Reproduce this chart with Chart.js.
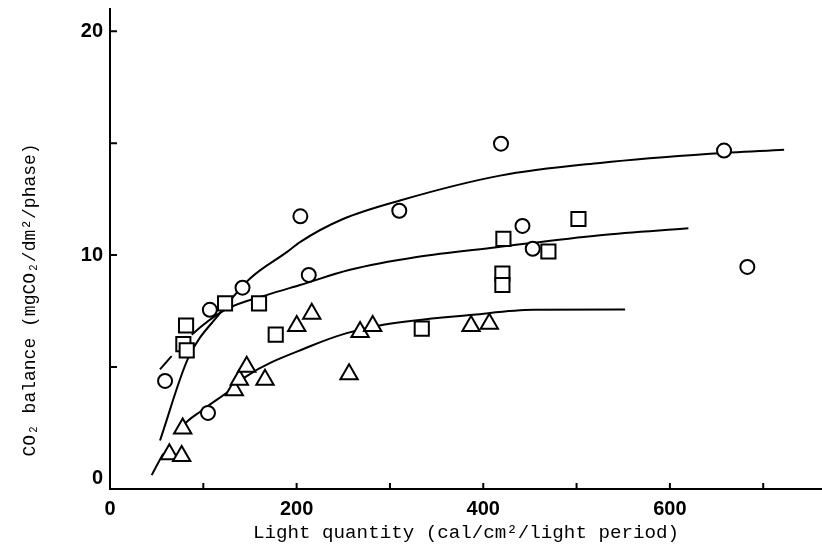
<!DOCTYPE html>
<html>
<head>
<meta charset="utf-8">
<script src="https://cdn.jsdelivr.net/npm/chart.js@4.4.1/dist/chart.umd.min.js"></script>
<style>
  body { margin: 0; background: #fff; }
  canvas { display: block; }
</style>
</head>
<body>
<canvas id="co2Chart" width="822" height="551"></canvas>
<script>
// measured CO2 balance, one pair of arrays per symbol
var circleX = [59, 105, 107, 142, 213, 204, 310, 419, 442, 453, 658, 683];
var circleY = [4.37, 2.94, 7.55, 8.54, 9.11, 11.73, 11.98, 14.98, 11.3, 10.28, 14.67, 9.47];

var squareX = [81.5, 78.6, 82.2, 123.3, 159.7, 177.6, 334.1, 421.6, 420.5, 420.5, 469.8, 502];
var squareY = [6.85, 6.02, 5.74, 7.84, 7.84, 6.44, 6.71, 10.72, 9.17, 8.66, 10.16, 11.61];

var triangleX = [63.6, 76.8, 77.9, 133.2, 138.6, 146.5, 166.1, 200.1, 216.2, 256.2, 268, 281.5, 386.9, 406.5];
var triangleY = [1.09, 1.02, 2.25, 3.95, 4.42, 5.01, 4.42, 6.83, 7.37, 4.67, 6.56, 6.83, 6.83, 6.93];

// hand fitted curves
var circleFitX = [53.6, 83.9, 117.9, 150.1, 189.4, 203.6, 249.7, 310.8, 418, 525.2, 643.1, 722.4];
var circleFitY = [1.71, 5.4, 7.4, 8.95, 10.13, 10.58, 11.61, 12.44, 13.55, 14.12, 14.53, 14.71];

var squareFitX = [53.6, 66.1, 87.6, 123.3, 169.3, 203.6, 257.2, 328.7, 414.5, 525.2, 619.8];
var squareFitY = [4.89, 5.48, 6.44, 7.55, 8.23, 8.66, 9.34, 9.91, 10.35, 10.89, 11.2];

var triangleFitX = [44.7, 57.1, 78.2, 98.3, 132.2, 146.5, 214.4, 253.7, 292.9, 389.4, 453.7, 552];
var triangleFitY = [0.16, 1.12, 2.38, 3.05, 4.07, 4.59, 5.92, 6.51, 6.88, 7.33, 7.55, 7.56];

var xTicks = [0, 100, 200, 300, 400, 500, 600, 700];
var xTickLabels = ['0', '', '200', '', '400', '', '600', ''];
var yTicks = [0, 5, 10, 15, 20];
var yTickLabels = ['0', '', '10', '', '20'];

function toPoints(xs, ys) {
  return xs.map(function (x, i) { return { x: x, y: ys[i] }; });
}

// hide the short piece of a curve right after its first stroke
function gapAfterFirst(ctx) {
  return ctx.p0DataIndex === 1 ? 'rgba(0,0,0,0)' : undefined;
}

function markers(data, style, radius) {
  return {
    data: data,
    showLine: false,
    pointStyle: style,
    pointRadius: radius,
    pointBorderWidth: 2,
    pointBorderColor: '#000',
    pointBackgroundColor: '#fff',
    order: 1
  };
}

function curve(data, gap) {
  var ds = {
    data: data,
    showLine: true,
    pointRadius: 0,
    borderColor: '#000',
    borderWidth: 2,
    cubicInterpolationMode: 'monotone',
    order: 2
  };
  if (gap) ds.segment = { borderColor: gapAfterFirst };
  return ds;
}

// small tick marks pointing into the plot
var innerTicks = {
  id: 'innerTicks',
  afterDraw: function (chart) {
    var ctx = chart.ctx, area = chart.chartArea;
    var xs = chart.scales.x, ys = chart.scales.y;
    ctx.save();
    ctx.strokeStyle = '#000';
    ctx.lineWidth = 2;
    ctx.beginPath();
    xTicks.forEach(function (v) {
      if (v === 0) return;
      var px = xs.getPixelForValue(v);
      ctx.moveTo(px, area.bottom);
      ctx.lineTo(px, area.bottom - 6);
    });
    yTicks.forEach(function (v) {
      if (v === 0) return;
      var py = ys.getPixelForValue(v);
      ctx.moveTo(area.left, py);
      ctx.lineTo(area.left + 7, py);
    });
    ctx.stroke();
    ctx.restore();
  }
};

var labelFamily = '"Liberation Sans", Arial, sans-serif';
var monoFamily = '"Liberation Mono", "DejaVu Sans Mono", monospace';

var ctx = document.getElementById('co2Chart');
var myChart = new Chart(ctx, {
  type: 'scatter',
  data: {
    datasets: [
      markers(toPoints(circleX, circleY), 'circle', 7),
      markers(toPoints(squareX, squareY), 'rect', 10),
      markers(toPoints(triangleX, triangleY), 'triangle', 10),
      curve(toPoints(circleFitX, circleFitY), false),
      curve(toPoints(squareFitX, squareFitY), true),
      curve(toPoints(triangleFitX, triangleFitY), true)
    ]
  },
  options: {
    responsive: false,
    animation: false,
    events: [],
    layout: { padding: 0, autoPadding: false },
    plugins: {
      legend: { display: false },
      tooltip: { enabled: false }
    },
    scales: {
      x: {
        type: 'linear',
        min: 0,
        max: 763,
        afterBuildTicks: function (scale) {
          scale.ticks = xTicks.map(function (v) { return { value: v }; });
        },
        afterFit: function (scale) { scale.height = 62; },
        grid: { display: false, drawTicks: false },
        border: { display: true, color: '#000', width: 2 },
        ticks: {
          color: '#000',
          font: { family: labelFamily, size: 20, weight: 'bold', lineHeight: 1 },
          padding: 10,
          maxRotation: 0,
          autoSkip: false,
          callback: function (value, index) { return xTickLabels[index]; }
        },
        title: {
          display: true,
          text: 'Light quantity (cal/cm²/light period)',
          color: '#000',
          font: { family: monoFamily, size: 19.2 },
          padding: { top: 0, bottom: 7 }
        }
      },
      y: {
        type: 'linear',
        min: -0.46,
        max: 21,
        afterBuildTicks: function (scale) {
          scale.ticks = yTicks.map(function (v) { return { value: v }; });
        },
        afterFit: function (scale) { scale.width = 110; },
        grid: { display: false, drawTicks: false },
        border: { display: true, color: '#000', width: 2 },
        ticks: {
          color: '#000',
          font: { family: labelFamily, size: 20, weight: 'bold', lineHeight: 0.2 },
          padding: 7,
          autoSkip: false,
          callback: function (value, index) { return yTickLabels[index]; }
        },
        title: {
          display: true,
          align: 'start',
          text: '   CO₂ balance (mgCO₂/dm²/phase)',
          color: '#000',
          font: { family: monoFamily, size: 18 },
          padding: { top: 19, bottom: 0 }
        }
      }
    }
  },
  plugins: [innerTicks]
});
</script>
</body>
</html>
